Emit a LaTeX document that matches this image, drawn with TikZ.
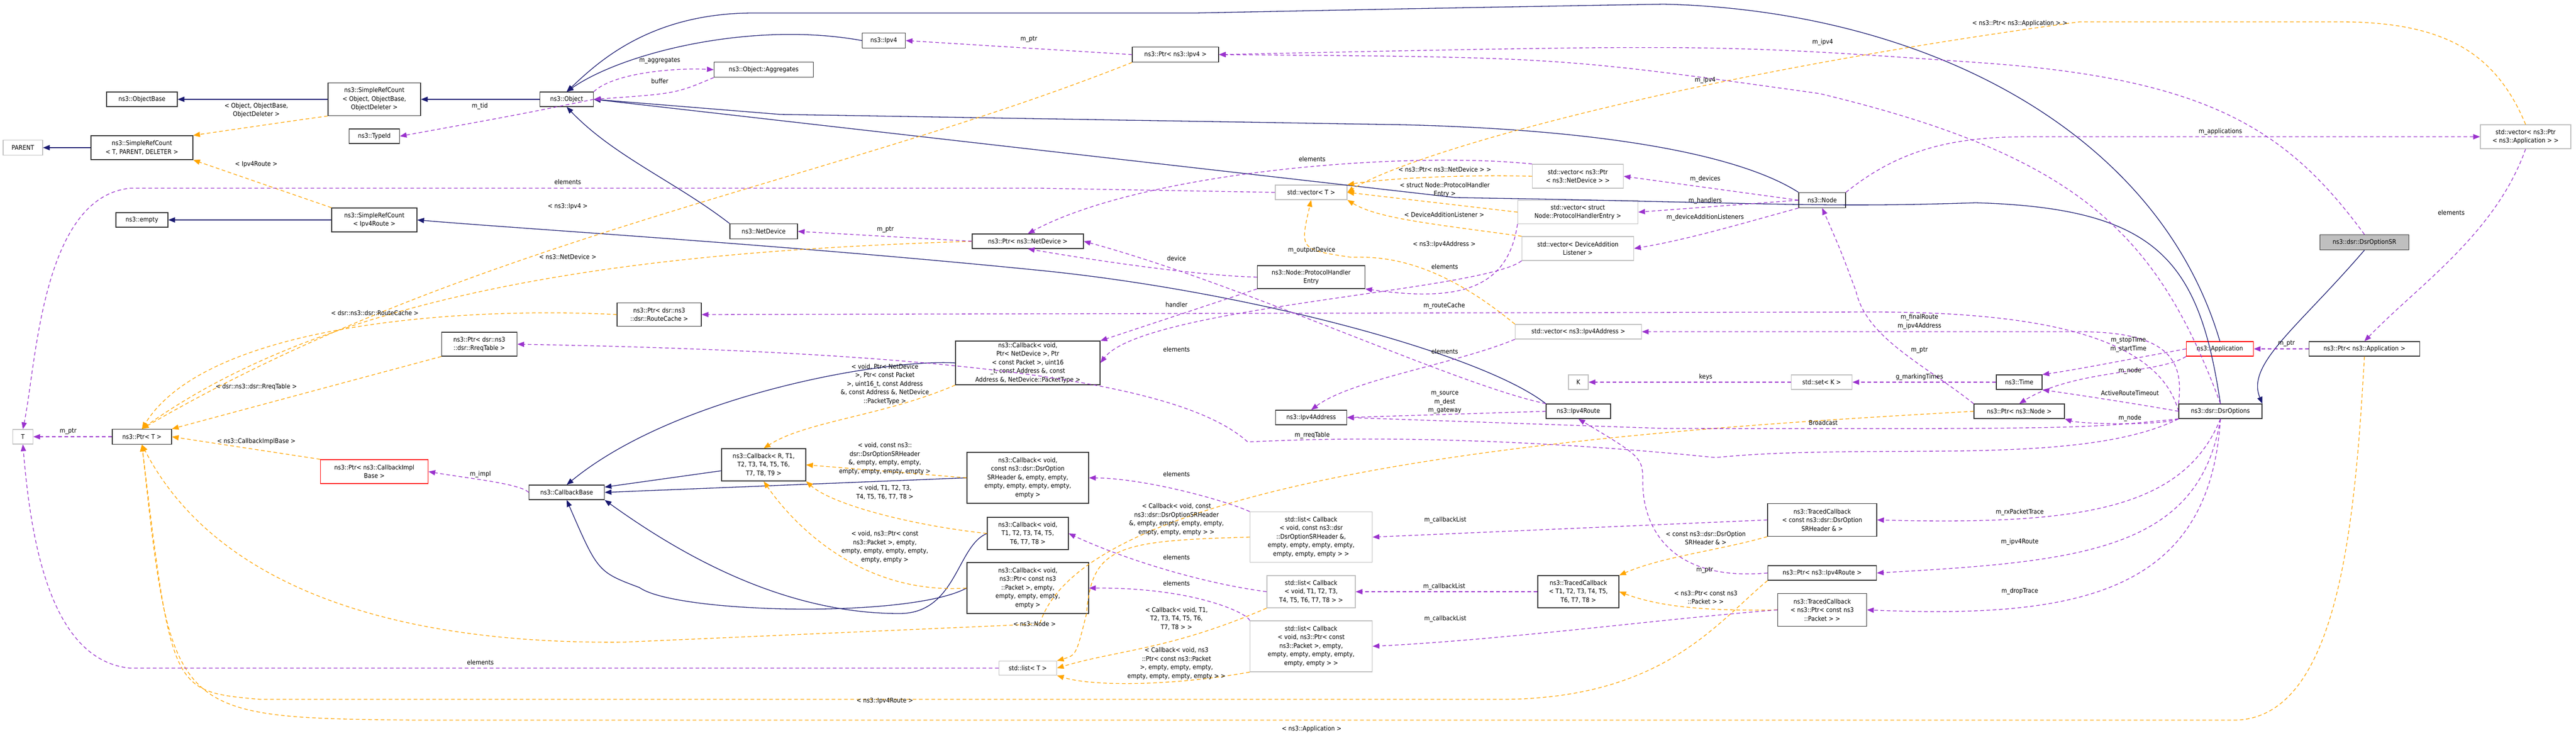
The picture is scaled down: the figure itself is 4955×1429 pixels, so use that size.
\documentclass[tikz,border=0pt]{standalone}
\usepackage{fontspec}
\setmainfont{DejaVu Sans Condensed}
\usetikzlibrary{arrows.meta}
\definecolor{bluC}{HTML}{191970}
\definecolor{purC}{HTML}{9A32CD}
\definecolor{orgC}{HTML}{FFA500}
\definecolor{gryC}{HTML}{BFBFBF}
\tikzset{
 bx/.style={draw=black!80,line width=1.3pt,fill=white,align=center,inner sep=1pt,font=\fontsize{12.3}{16.5}\selectfont},
 gbx/.style={bx,draw=gryC},
 rbx/.style={bx,draw=red},
 inh/.style={draw=bluC,line width=1.3pt,-{Triangle[length=13pt,width=10pt]}},
 mem/.style={draw=purC,line width=1.3pt,dash pattern=on 7pt off 5pt,-{Triangle[length=13pt,width=10pt]}},
 tpl/.style={draw=orgC,line width=1.3pt,dash pattern=on 7pt off 5pt,-{Triangle[length=13pt,width=10pt]}},
 lb/.style={align=center,inner sep=0pt,font=\fontsize{12.3}{16.5}\selectfont}
}
\begin{document}
\begin{tikzpicture}[x=1pt,y=-1pt]
\useasboundingbox (0,0) rectangle (4955,1429);
% nodes
\node[bx,minimum width=136,minimum height=28] (objbase) at (273,191) {ns3::ObjectBase};
\node[bx,minimum width=178,minimum height=63] (srcObj) at (720,191) {ns3::SimpleRefCount\\< Object, ObjectBase,\\ObjectDeleter >};
\node[bx,minimum width=97,minimum height=28] (typeid) at (720,262) {ns3::TypeId};
\node[gbx,minimum width=76,minimum height=29] (parent) at (44,284) {PARENT};
\node[bx,minimum width=196,minimum height=46] (srcT) at (273,284) {ns3::SimpleRefCount\\< T, PARENT, DELETER >};
\node[bx,minimum width=100,minimum height=28] (empty) at (273,423) {ns3::empty};
\node[bx,minimum width=164,minimum height=46] (srcR) at (720,423) {ns3::SimpleRefCount\\< Ipv4Route >};
\node[bx,minimum width=103,minimum height=28] (object) at (1090,191) {ns3::Object};
\node[bx,minimum width=83,minimum height=29] (ipv4) at (1700,78) {ns3::Ipv4};
\node[bx,minimum width=191,minimum height=29] (aggr) at (1469,134) {ns3::Object::Aggregates};
\node[bx,minimum width=130,minimum height=29] (netdev) at (1469,445) {ns3::NetDevice};
\node[bx,minimum width=162,minimum height=45] (ptrRC) at (1268,605) {ns3::Ptr< dsr::ns3\\::dsr::RouteCache >};
\node[bx,minimum width=145,minimum height=46] (ptrRT) at (922,662) {ns3::Ptr< dsr::ns3\\::dsr::RreqTable >};
\node[gbx,minimum width=39,minimum height=28] (T) at (44,840) {T};
\node[bx,minimum width=114,minimum height=29] (ptrT) at (273,840) {ns3::Ptr< T >};
\node[rbx,minimum width=207,minimum height=46] (ptrCIB) at (720,907) {ns3::Ptr< ns3::CallbackImpl\\Base >};
\node[bx,minimum width=166,minimum height=29] (ptrIpv4) at (2261,105) {ns3::Ptr< ns3::Ipv4 >};
\node[bx,minimum width=214,minimum height=28] (ptrND) at (1977,464) {ns3::Ptr< ns3::NetDevice >};
\node[gbx,minimum width=138,minimum height=28] (vecT) at (2522,370) {std::vector< T >};
\node[bx,minimum width=207,minimum height=44] (phe) at (2522,533) {ns3::Node::ProtocolHandler\\Entry};
\node[gbx,minimum width=175,minimum height=46] (vecND) at (3035,339) {std::vector< ns3::Ptr\\< ns3::NetDevice > >};
\node[gbx,minimum width=231,minimum height=45] (vecPHE) at (3035,408) {std::vector< struct\\Node::ProtocolHandlerEntry >};
\node[gbx,minimum width=215,minimum height=46] (vecDAL) at (3035,478) {std::vector< DeviceAddition\\Listener >};
\node[bx,minimum width=90,minimum height=29] (node) at (3505,385) {ns3::Node};
\node[gbx,minimum width=243,minimum height=28] (vecIA) at (3036,638) {std::vector< ns3::Ipv4Address >};
\node[gbx,minimum width=174,minimum height=46] (vecApp) at (4858,263) {std::vector< ns3::Ptr\\< ns3::Application > >};
\node[bx,fill=gryC,minimum width=171,minimum height=29] (dsrSR) at (4548,466) {ns3::dsr::DsrOptionSR};
\node[rbx,minimum width=129,minimum height=28] (app) at (4270,671) {ns3::Application};
\node[bx,minimum width=213,minimum height=28] (ptrApp) at (4548,671) {ns3::Ptr< ns3::Application >};
\node[gbx,minimum width=38,minimum height=28] (K) at (3036,735) {K};
\node[gbx,minimum width=117,minimum height=28] (setK) at (3504,735) {std::set< K >};
\node[bx,minimum width=88,minimum height=28] (time) at (3884,735) {ns3::Time};
\node[bx,minimum width=124,minimum height=28] (iroute) at (3036,791) {ns3::Ipv4Route};
\node[bx,minimum width=174,minimum height=28] (ptrNode) at (3884,791) {ns3::Ptr< ns3::Node >};
\node[bx,minimum width=160,minimum height=28] (dsrOpt) at (4271,791) {ns3::dsr::DsrOptions};
\node[bx,minimum width=137,minimum height=28] (iaddr) at (2522,803) {ns3::Ipv4Address};
\node[bx,minimum width=210,minimum height=63] (tcSR) at (3505,1000) {ns3::TracedCallback\\< const ns3::dsr::DsrOption\\SRHeader \& >};
\node[bx,minimum width=209,minimum height=28] (ptrIR) at (3505,1102) {ns3::Ptr< ns3::Ipv4Route >};
\node[bx,minimum width=171,minimum height=63] (tcPkt) at (3505,1173) {ns3::TracedCallback\\< ns3::Ptr< const ns3\\::Packet > >};
\node[bx,minimum width=156,minimum height=62] (tcT) at (3036,1138) {ns3::TracedCallback\\< T1, T2, T3, T4, T5,\\T6, T7, T8 >};
\node[bx,minimum width=145,minimum height=28] (cbBase) at (1090,947) {ns3::CallbackBase};
\node[bx,minimum width=162,minimum height=62] (cbR) at (1469,894) {ns3::Callback< R, T1,\\T2, T3, T4, T5, T6,\\T7, T8, T9 >};
\node[bx,minimum width=278,minimum height=84] (cbND) at (1977,698) {ns3::Callback< void,\\Ptr< NetDevice >, Ptr\\< const Packet >, uint16\\\_t, const Address \&, const\\Address \&, NetDevice::PacketType >};
\node[bx,minimum width=234,minimum height=98] (cbSR) at (1977,919) {ns3::Callback< void,\\const ns3::dsr::DsrOption\\SRHeader \&, empty, empty,\\empty, empty, empty, empty,\\empty >};
\node[bx,minimum width=156,minimum height=62] (cbT) at (1977,1026) {ns3::Callback< void,\\T1, T2, T3, T4, T5,\\T6, T7, T8 >};
\node[bx,minimum width=234,minimum height=98] (cbPkt) at (1977,1131) {ns3::Callback< void,\\ns3::Ptr< const ns3\\::Packet >, empty,\\empty, empty, empty,\\empty >};
\node[gbx,minimum width=235,minimum height=97] (lSR) at (2522,1033) {std::list< Callback\\< void, const ns3::dsr\\::DsrOptionSRHeader \&,\\empty, empty, empty, empty,\\empty, empty, empty > >};
\node[gbx,minimum width=170,minimum height=62] (lT) at (2522,1138) {std::list< Callback\\< void, T1, T2, T3,\\T4, T5, T6, T7, T8 > >};
\node[gbx,minimum width=235,minimum height=98] (lPkt) at (2522,1243) {std::list< Callback\\< void, ns3::Ptr< const\\ns3::Packet >, empty,\\empty, empty, empty, empty,\\empty, empty > >};
\node[gbx,minimum width=111,minimum height=27] (listT) at (1977,1285) {std::list< T >};

% inheritance
\draw[inh] (srcObj) -- (objbase);
\draw[inh] (object) -- (srcObj);
\draw[inh] (srcT) -- (parent);
\draw[inh] (srcR) -- (empty);
\draw[inh] (iroute.north west) .. controls (2850,680) and (2400,560) .. (2000,520) .. controls (1500,470) and (1000,440) .. (srcR.east);
\draw[inh] (ipv4.west) .. controls (1450,40) and (1200,100) .. (object.north);
\draw[inh] (netdev.north west) .. controls (1300,350) and (1180,300) .. (object.south);
\draw[inh] (node.north west) .. controls (3350,300) and (3100,250) .. (2700,240) -- (1500,220) -- (object.east);
\draw[inh] (dsrOpt.north) .. controls (4230,500) and (4150,400) .. (3800,390) .. controls (3500,400) and (3400,390) .. (2800,380) -- (object.east);
\draw[inh] (app.north) .. controls (4150,250) and (3700,20) .. (3200,8) .. controls (2800,15) .. (2300,25) -- (1450,25) .. controls (1250,25) and (1150,120) .. (object.north);
\draw[inh] (dsrSR.south) .. controls (4420,630) and (4320,700) .. (dsrOpt.north east);
\draw[inh] (cbR) -- (cbBase);
\draw[inh] (cbND.west) .. controls (1700,690) and (1300,760) .. (cbBase.north);
\draw[inh] (cbSR.west) -- (cbBase.east);
\draw[inh] (cbT.west) .. controls (1840,1050) and (1840,1180) .. (1730,1180) .. controls (1500,1180) and (1300,1060) .. (cbBase.south east);
\draw[inh] (cbPkt.west) .. controls (1750,1190) and (1300,1180) .. (1230,1130) .. controls (1150,1100) .. (cbBase.south);

% template instances
\draw[tpl] (srcObj.south west) .. controls (580,230) .. (srcT.north east);
\draw[tpl] (srcR.north west) -- (srcT.south east);
\draw[tpl] (ptrIpv4.south west) .. controls (1600,350) and (900,460) .. (ptrT.north);
\draw[tpl] (ptrND.west) .. controls (1400,480) and (700,520) .. (ptrT.north);
\draw[tpl] (ptrRC.west) .. controls (900,590) and (400,620) .. (ptrT.north);
\draw[tpl] (ptrRT.south west) -- (ptrT.north east);
\draw[tpl] (ptrCIB.north west) -- (ptrT.east);
\draw[tpl] (ptrNode.west) .. controls (3300,820) and (2100,880) .. (2000,1200) -- (1200,1235) .. controls (700,1240) and (400,1100) .. (ptrT.south);
\draw[tpl] (ptrIR.south west) .. controls (3300,1200) and (3200,1340) .. (2900,1345) -- (500,1345) .. controls (330,1330) .. (ptrT.south);
\draw[tpl] (ptrApp.south) .. controls (4530,1000) and (4500,1380) .. (4300,1385) -- (800,1385) .. controls (330,1380) .. (ptrT.south);
\draw[tpl] (vecApp.north) .. controls (4800,100) and (4700,42) .. (4500,42) -- (4000,42) .. controls (3200,150) and (2700,300) .. (vecT.east);
\draw[tpl] (vecND.west) .. controls (2800,335) and (2650,345) .. (vecT.north east);
\draw[tpl] (vecPHE.west) -- (vecT.east);
\draw[tpl] (vecDAL.north west) .. controls (2750,430) and (2650,420) .. (vecT.south east);
\draw[tpl] (vecIA.north west) .. controls (2800,530) and (2700,490) .. (2600,495) .. controls (2500,480) .. (vecT.south);
\draw[tpl] (cbND.south west) .. controls (1700,800) and (1550,810) .. (cbR.north);
\draw[tpl] (cbSR.west) -- (cbR.east);
\draw[tpl] (cbT.west) .. controls (1750,1010) and (1600,970) .. (cbR.south east);
\draw[tpl] (cbPkt.west) .. controls (1650,1145) and (1520,1000) .. (cbR.south);
\draw[tpl] (lSR.west) .. controls (2150,1040) and (2100,1050) .. (2090,1180) .. controls (2070,1260) .. (listT.north east);
\draw[tpl] (lT.south west) .. controls (2250,1250) and (2150,1250) .. (listT.east);
\draw[tpl] (lPkt.south west) .. controls (2250,1320) and (2100,1320) .. (listT.south east);
\draw[tpl] (tcSR.south west) .. controls (3300,1060) and (3200,1070) .. (tcT.north east);
\draw[tpl] (tcPkt.west) .. controls (3300,1175) and (3200,1170) .. (tcT.east);

% members
\draw[mem] (object.east) .. controls (1000,220) .. (typeid.east);
\draw[mem] (object.north east) .. controls (1180,140) and (1300,130) .. (aggr.west);
\draw[mem] (aggr.south west) .. controls (1300,180) .. (object.east);
\draw[mem] (ptrT.west) -- (T.east);
\draw[mem] (listT.west) -- (250,1285) .. controls (100,1270) and (60,1050) .. (T.south);
\draw[mem] (vecT.west) -- (2000,362) -- (250,362) .. controls (80,380) and (70,700) .. (T.north);
\draw[mem] (ptrIpv4.west) -- (ipv4.east);
\draw[mem] (ptrND.west) -- (netdev.east);
\draw[mem] (vecND.north west) .. controls (2700,290) and (2200,330) .. (ptrND.north);
\draw[mem] (iroute.north west) .. controls (2800,740) and (2400,550) .. (ptrND.east);
\draw[mem] (phe.west) .. controls (2300,530) and (2100,500) .. (ptrND.south);
\draw[mem] (phe.south west) -- (cbND.north east);
\draw[mem] (vecPHE.south west) .. controls (2900,560) and (2800,580) .. (phe.south east);
\draw[mem] (vecDAL.south west) .. controls (2850,560) and (2200,590) .. (cbND.east);
\draw[mem] (vecIA.south west) .. controls (2800,700) and (2600,730) .. (iaddr.north);
\draw[mem] (node.west) -- (vecND.east);
\draw[mem] (node.west) -- (vecPHE.east);
\draw[mem] (node.south west) .. controls (3350,430) and (3250,460) .. (vecDAL.east);
\draw[mem] (node.north east) .. controls (3650,290) and (3750,263) .. (3900,263) -- (vecApp.west);
\draw[mem] (dsrOpt.north) .. controls (4150,450) and (4000,300) .. (3500,180) .. controls (3000,110) .. (ptrIpv4.east);
\draw[mem] (dsrSR.north) .. controls (4400,250) and (4250,150) .. (3800,120) .. controls (3300,85) .. (ptrIpv4.east);
\draw[mem] (dsrOpt.west) .. controls (4150,640) and (3900,600) .. (3600,600) -- (ptrRC.east);
\draw[mem] (dsrOpt.south west) .. controls (4000,900) and (3600,850) .. (3300,880) .. controls (2900,840) and (2600,840) .. (2400,850) .. controls (2300,760) and (2000,680) .. (ptrRT.east);
\draw[mem] (iroute.west) -- (iaddr.east);
\draw[mem] (dsrOpt.south west) .. controls (4000,825) .. (3200,824) -- (iaddr.east);
\draw[mem] (dsrOpt.north west) .. controls (4200,700) and (4180,638) .. (4000,638) -- (vecIA.east);
\draw[mem] (setK.west) -- (K.east);
\draw[mem] (time.west) -- (setK.east);
\draw[mem] (ptrNode.north west) .. controls (3700,700) and (3590,650) .. (3570,560) .. controls (3540,480) .. (node.south);
\draw[mem] (app.west) .. controls (4100,690) and (4000,710) .. (time.north east);
\draw[mem] (app.south west) .. controls (4150,720) and (3990,710) .. (ptrNode.north);
\draw[mem] (dsrOpt.west) .. controls (4100,775) and (4000,760) .. (time.south east);
\draw[mem] (dsrOpt.south west) .. controls (4150,820) and (4000,815) .. (ptrNode.south east);
\draw[mem] (ptrApp.west) -- (app.east);
\draw[mem] (vecApp.south) .. controls (4800,450) and (4650,550) .. (ptrApp.north);
\draw[mem] (cbBase.west) .. controls (1000,930) and (900,920) .. (ptrCIB.east);
\draw[mem] (lSR.north west) .. controls (2350,960) and (2200,920) .. (cbSR.east);
\draw[mem] (lT.west) .. controls (2300,1120) and (2150,1070) .. (cbT.east);
\draw[mem] (lPkt.north west) .. controls (2400,1180) and (2300,1130) .. (cbPkt.east);
\draw[mem] (tcSR.west) -- (lSR.east);
\draw[mem] (tcT.west) -- (lT.east);
\draw[mem] (tcPkt.west) .. controls (3200,1190) and (2900,1230) .. (lPkt.east);
\draw[mem] (dsrOpt.south) .. controls (4200,980) and (4000,1010) .. (tcSR.east);
\draw[mem] (dsrOpt.south) .. controls (4230,1060) and (4000,1080) .. (ptrIR.east);
\draw[mem] (dsrOpt.south) .. controls (4250,1140) and (4000,1190) .. (tcPkt.east);
\draw[mem] (ptrIR.west) .. controls (3200,1120) and (3160,1000) .. (3160,930) .. controls (3160,880) .. (iroute.south);

% labels
\node[lb] (l1) at (493,212) {< Object, ObjectBase,\\ObjectDeleter >};
\node[lb] (l2) at (923,204) {m\_tid};
\node[lb] (l3) at (493,316) {< Ipv4Route >};
\node[lb] (l4) at (1092,350) {elements};
\node[lb] (l5) at (1092,397) {< ns3::Ipv4 >};
\node[lb] (l6) at (1092,494) {< ns3::NetDevice >};
\node[lb] (l7) at (721,602) {< dsr::ns3::dsr::RouteCache >};
\node[lb] (l8) at (493,744) {< dsr::ns3::dsr::RreqTable >};
\node[lb] (l9) at (493,849) {< ns3::CallbackImplBase >};
\node[lb] (l10) at (131,830) {m\_ptr};
\node[lb] (l11) at (924,912) {m\_impl};
\node[lb] (l12) at (924,1274) {elements};
\node[lb] (l13) at (1269,117) {m\_aggregates};
\node[lb] (l14) at (1269,156) {buffer};
\node[lb] (l15) at (1979,76) {m\_ptr};
\node[lb] (l16) at (1703,442) {m\_ptr};
\node[lb] (l17) at (1702,739) {< void, Ptr< NetDevice\\>, Ptr< const Packet\\>, uint16\_t, const Address\\\&, const Address \&, NetDevice\\::PacketType >};
\node[lb] (l18) at (3506,81) {m\_ipv4};
\node[lb] (l19) at (3280,154) {m\_ipv4};
\node[lb] (l20) at (3885,45) {< ns3::Ptr< ns3::Application > >};
\node[lb] (l21) at (2524,306) {elements};
\node[lb] (l22) at (2779,326) {< ns3::Ptr< ns3::NetDevice > >};
\node[lb] (l23) at (2779,365) {< struct Node::ProtocolHandler\\Entry >};
\node[lb] (l24) at (2778,413) {< DeviceAdditionListener >};
\node[lb] (l25) at (2778,470) {< ns3::Ipv4Address >};
\node[lb] (l26) at (2523,481) {m\_outputDevice};
\node[lb] (l27) at (2263,497) {device};
\node[lb] (l28) at (2779,513) {elements};
\node[lb] (l29) at (2263,586) {handler};
\node[lb] (l30) at (2778,588) {m\_routeCache};
\node[lb] (l31) at (2779,676) {elements};
\node[lb] (l32) at (2263,672) {elements};
\node[lb] (l33) at (3280,344) {m\_devices};
\node[lb] (l34) at (3280,386) {m\_handlers};
\node[lb] (l35) at (3280,418) {m\_deviceAdditionListeners};
\node[lb] (l36) at (3692,619) {m\_finalRoute\\m\_ipv4Address};
\node[lb] (l37) at (3692,674) {m\_ptr};
\node[lb] (l38) at (4271,253) {m\_applications};
\node[lb] (l39) at (4715,409) {elements};
\node[lb] (l40) at (4398,661) {m\_ptr};
\node[lb] (l41) at (4094,663) {m\_stopTime\\m\_startTime};
\node[lb] (l42) at (4097,713) {m\_node};
\node[lb] (l43) at (4097,756) {ActiveRouteTimeout};
\node[lb] (l44) at (4097,804) {m\_node};
\node[lb] (l45) at (3281,725) {keys};
\node[lb] (l46) at (3692,725) {g\_markingTimes};
\node[lb] (l47) at (2779,774) {m\_source\\m\_dest\\m\_gateway};
\node[lb] (l48) at (2524,837) {m\_rreqTable};
\node[lb] (l49) at (3507,813) {Broadcast};
\node[lb] (l50) at (2263,912) {elements};
\node[lb] (l51) at (2263,1072) {elements};
\node[lb] (l52) at (2263,1122) {elements};
\node[lb] (l53) at (2263,999) {< Callback< void, const\\ns3::dsr::DsrOptionSRHeader\\\&, empty, empty, empty, empty,\\empty, empty, empty > >};
\node[lb] (l54) at (2263,1190) {< Callback< void, T1,\\T2, T3, T4, T5, T6,\\T7, T8 > >};
\node[lb] (l55) at (2263,1276) {< Callback< void, ns3\\::Ptr< const ns3::Packet\\>, empty, empty, empty,\\empty, empty, empty, empty > >};
\node[lb] (l56) at (2780,1000) {m\_callbackList};
\node[lb] (l57) at (2778,1128) {m\_callbackList};
\node[lb] (l58) at (2780,1190) {m\_callbackList};
\node[lb] (l59) at (3281,1035) {< const ns3::dsr::DsrOption\\SRHeader \& >};
\node[lb] (l60) at (3279,1097) {m\_ptr};
\node[lb] (l61) at (3281,1149) {< ns3::Ptr< const ns3\\::Packet > >};
\node[lb] (l62) at (3885,985) {m\_rxPacketTrace};
\node[lb] (l63) at (3885,1042) {m\_ipv4Route};
\node[lb] (l64) at (3885,1137) {m\_dropTrace};
\node[lb] (l65) at (1702,1348) {< ns3::Ipv4Route >};
\node[lb] (l66) at (2523,1402) {< ns3::Application >};
\node[lb] (l67) at (1990,1200) {< ns3::Node >};
\node[lb] (l68) at (1702,882) {< void, const ns3::\\dsr::DsrOptionSRHeader\\\&, empty, empty, empty,\\empty, empty, empty, empty >};
\node[lb] (l69) at (1702,947) {< void, T1, T2, T3,\\T4, T5, T6, T7, T8 >};
\node[lb] (l70) at (1702,1052) {< void, ns3::Ptr< const\\ns3::Packet >, empty,\\empty, empty, empty, empty,\\empty, empty >};
\end{tikzpicture}
\end{document}
